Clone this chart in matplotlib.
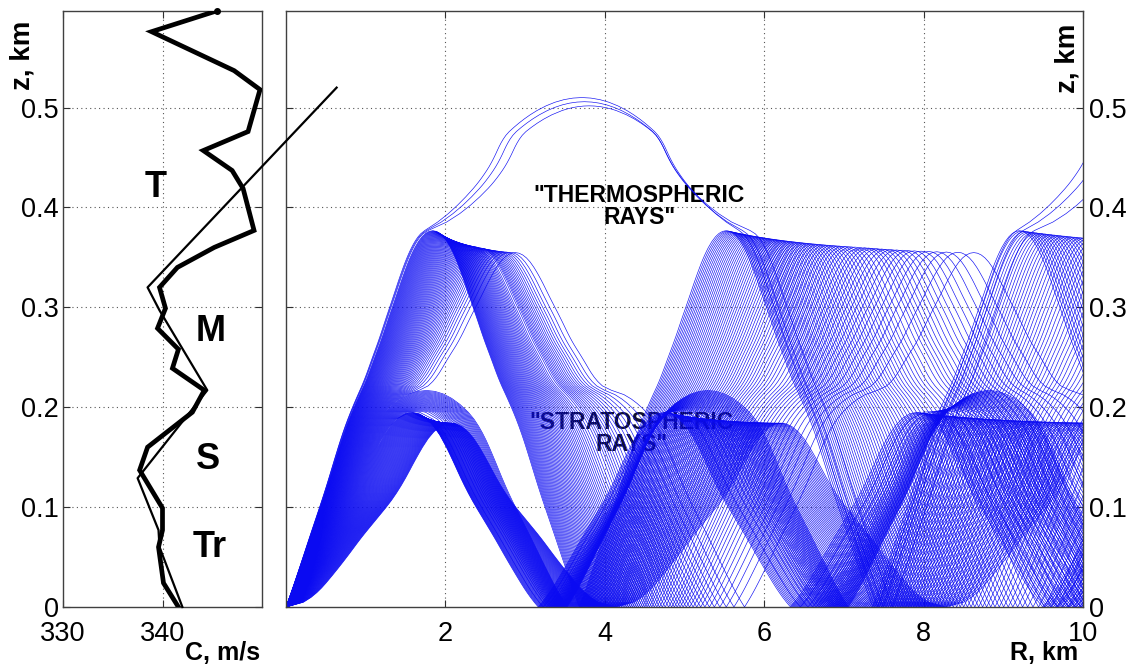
import numpy as np
import matplotlib
matplotlib.use("Agg")
import matplotlib.pyplot as plt
from matplotlib.collections import LineCollection

plt.rcParams['font.family'] = ['Liberation Sans', 'DejaVu Sans']

# Sound-speed profiles (height in km, speed in m/s)
z_thick = [0.000, 0.024, 0.060, 0.077, 0.099, 0.137, 0.160, 0.195, 0.217,
           0.239, 0.258, 0.279, 0.299, 0.320, 0.340, 0.360, 0.377, 0.419,
           0.437, 0.457, 0.476, 0.497, 0.518, 0.537, 0.576, 0.597]
c_thick = [341.6, 340.1, 339.6, 340.0, 340.0, 337.7, 338.5, 343.0, 344.2,
           341.0, 341.6, 339.5, 340.3, 339.7, 341.5, 345.2, 349.2, 348.1,
           347.0, 344.1, 348.6, 349.2, 349.8, 347.2, 338.9, 345.5]

z_thin = [0.000, 0.060, 0.077, 0.129, 0.217, 0.297, 0.320, 0.520]
c_thin = [342.0, 339.7, 339.6, 337.5, 344.5, 339.7, 338.5, 357.5]

# Launch elevation angles (degrees) of the ray fan from the source at R = 0,
# z = 0: a fan of ducted rays and a few rays reaching the upper layer
fan_first, fan_last, fan_step = 0.1, 11.95, 0.07
upper_angles = [12.08, 12.17, 12.26]
launch_angles = np.concatenate(
    [np.arange(fan_first, fan_last + fan_step / 2, fan_step), upper_angles])

layer_labels = ["T", "M", "S", "Tr"]
layer_label_c = [339.3, 344.8, 344.6, 344.7]
layer_label_z = [0.420, 0.276, 0.1475, 0.0595]

r_ticks = [2, 4, 6, 8, 10]
z_ticks = [0, 0.1, 0.2, 0.3, 0.4, 0.5]
c_ticks = [330, 340]

R_MAX = 10.0
Z_TOP = 0.597
SUBSTEPS = 5


def layer_dx(p, c_a, c_b, g, dz):
    """Horizontal run of a ray between speeds c_a and c_b in a linear layer."""
    s_a = np.sqrt(max(0.0, 1 - (p * c_a) ** 2))
    s_b = np.sqrt(max(0.0, 1 - (p * c_b) ** 2))
    if abs(g) < 1e-9:
        return abs(dz) * (p * c_a) / s_a
    return abs(s_a - s_b) / (p * abs(g))


def trace_ray(theta_deg, zs, cs, r_end):
    """Ray in a piecewise-linear c(z) with a reflecting ground."""
    zs = np.asarray(zs, float)
    cs = np.asarray(cs, float)
    p = np.cos(np.radians(theta_deg)) / cs[0]
    leg_x, leg_z = [0.0], [zs[0]]
    d = 0.0
    turned = False
    u = np.linspace(0.0, 1.0, SUBSTEPS + 1)[1:]
    for k in range(len(zs) - 1):
        c1, c2 = cs[k], cs[k + 1]
        dz = zs[k + 1] - zs[k]
        g = (c2 - c1) / dz
        if p * c2 < 1.0:
            z_sub = zs[k] + dz * u
        else:
            zt = zs[k] + (1.0 / p - c1) / g
            z_sub = zs[k] + (zt - zs[k]) * (1 - (1 - u) ** 2)
            turned = True
        for zz in z_sub:
            cz = min(c1 + g * (zz - zs[k]), 1.0 / p)
            leg_x.append(d + layer_dx(p, c1, cz, g, zz - zs[k]))
            leg_z.append(zz)
        d = leg_x[-1]
        if turned:
            break
    leg_x = np.array(leg_x)
    leg_z = np.array(leg_z)
    if not turned:
        return leg_x, leg_z
    half = leg_x[-1]
    cyc_x = np.concatenate([leg_x, 2 * half - leg_x[-2::-1]])
    cyc_z = np.concatenate([leg_z, leg_z[-2::-1]])
    period = 2 * half
    xs, zz = [], []
    n = 0
    while n * period < r_end:
        xs.append(cyc_x + n * period)
        zz.append(cyc_z)
        n += 1
    return np.concatenate(xs), np.concatenate(zz)


fig = plt.figure(figsize=(11.3, 6.71), dpi=100)
fig.patch.set_facecolor("white")

ax1 = fig.add_axes([63 / 1130, 64 / 671, 199 / 1130, 596.3 / 671])
ax2 = fig.add_axes([286 / 1130, 64 / 671, 797 / 1130, 596.3 / 671])
ax1.set_zorder(3)
ax1.patch.set_alpha(0)

grid_kw = dict(color="#555555", linestyle=(0, (1, 3)), linewidth=0.8)
tick_kw = dict(direction="in", length=5, width=0.8, colors="#303030",
               labelsize=19.5, labelcolor="black")

# ---- left panel: sound-speed profiles ----
ax1.plot(c_thick, z_thick, color="black", lw=3.4, solid_joinstyle="miter",
         zorder=4)
ax1.plot(c_thick[-1:], z_thick[-1:], "o", color="black", ms=4, zorder=4,
         clip_on=False)
ax1.plot(c_thin, z_thin, color="black", lw=1.6, zorder=5, clip_on=False)
for lab, cx, cz in zip(layer_labels, layer_label_c, layer_label_z):
    ax1.text(cx, cz, lab, fontsize=26, fontweight="bold", ha="center",
             va="center")
ax1.set_xlim(330, 350)
ax1.set_ylim(0, Z_TOP)
ax1.set_xticks(c_ticks)
ax1.set_yticks(z_ticks)
ax1.set_yticklabels([f"{t:g}" for t in z_ticks])
ax1.tick_params(axis="both", top=True, right=True, **tick_kw)
ax1.tick_params(axis="x", pad=10)
ax1.tick_params(axis="y", pad=3)
for v in c_ticks[1:]:
    ax1.axvline(v, zorder=0.5, **grid_kw)
for v in z_ticks[1:]:
    ax1.axhline(v, zorder=0.5, **grid_kw)

# ---- right panel: ray paths ----
segments = []
for ang in launch_angles:
    rx, rz = trace_ray(ang, z_thick, c_thick, R_MAX)
    segments.append(np.column_stack([rx, rz]))
rays = LineCollection(segments, colors="#0a0af2", linewidths=0.45, zorder=2)
ax2.add_collection(rays)

ax2.set_xlim(0, R_MAX)
ax2.set_ylim(0, Z_TOP)
ax2.set_xticks(r_ticks)
ax2.set_yticks(z_ticks)
ax2.set_yticklabels([f"{t:g}" for t in z_ticks])
ax2.yaxis.tick_right()
ax2.tick_params(axis="both", top=True, left=True, right=True, **tick_kw)
ax2.tick_params(axis="x", pad=10)
ax2.tick_params(axis="y", pad=4)
for v in r_ticks[:-1]:
    ax2.axvline(v, zorder=0.5, **grid_kw)
for v in z_ticks[1:]:
    ax2.axhline(v, zorder=0.5, **grid_kw)

ax2.text(4.43, 0.401, '"THERMOSPHERIC\nRAYS"', fontsize=16.5,
         fontweight="bold", ha="center", va="center", linespacing=0.95,
         zorder=1)
ax2.text(4.33, 0.174, '"STRATOSPHERIC\nRAYS"', fontsize=16.5,
         fontweight="bold", ha="center", va="center", linespacing=0.95,
         color="#101030", zorder=1)
ax2.text(9.81, 0.549, "z, km", fontsize=20, fontweight="bold",
         rotation=90, ha="center", va="center", zorder=1)

for ax in (ax1, ax2):
    for sp in ax.spines.values():
        sp.set_color("#404040")
        sp.set_linewidth(1.0)

fig.text(23 / 1130, 1 - 55 / 671, "z, km", fontsize=20, fontweight="bold",
         rotation=90, ha="center", va="center")
fig.text(260 / 1130, 1 - 653 / 671, "C, m/s", fontsize=18, fontweight="bold",
         ha="right", va="center")
fig.text(1078 / 1130, 1 - 653 / 671, "R, km", fontsize=18, fontweight="bold",
         ha="right", va="center")

fig.savefig("out.png", dpi=100, facecolor="white")
